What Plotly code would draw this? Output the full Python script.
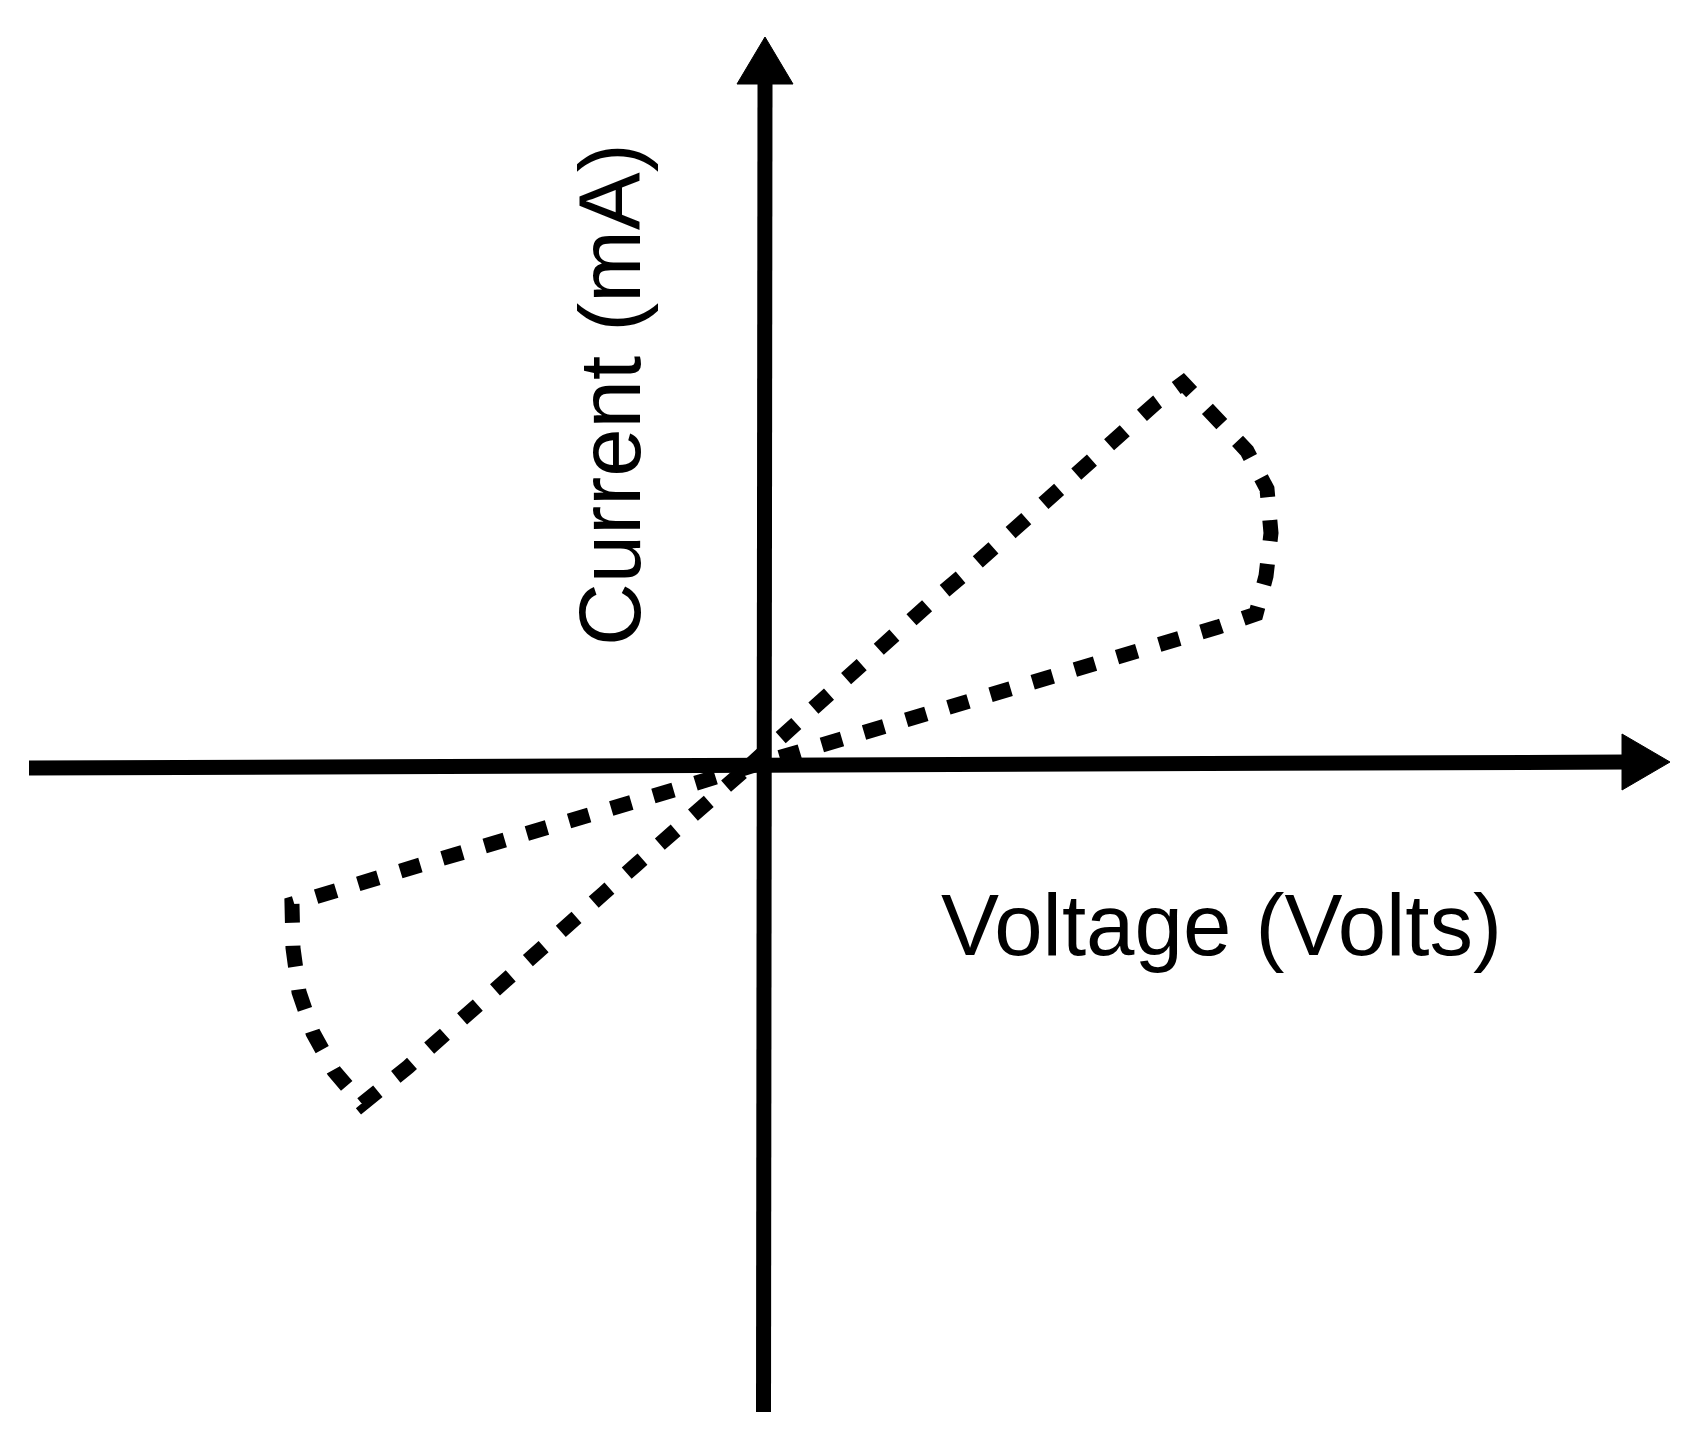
import plotly.graph_objects as go

# Pinched hysteresis loop (figure-8)
voltage = [-0.16, 0.35, 0.68, 1.01, 1.33, 1.65, 1.98, 2.30, 2.63, 2.95, 3.28, 3.60, 3.93,
           4.19, 4.53, 4.83, 5.03, 5.07, 5.02, 4.92,
           4.54, 4.13, 3.71, 3.28, 2.88, 2.46, 2.05, 1.63, 1.21, 0.79, 0.38, -0.16,
           -0.87, -1.29, -1.71, -2.12, -2.54, -2.95, -3.37, -4.72,
           -4.71, -4.65, -4.51, -4.30, -4.02,
           -3.56, -3.23, -2.90, -2.58, -2.25, -1.96, -1.60, -1.27, -0.96, -0.62, -0.16]
current = [-0.02, 0.45, 0.74, 1.03, 1.32, 1.61, 1.89, 2.18, 2.47, 2.76, 3.05, 3.34, 3.63,
           3.82, 3.46, 3.14, 2.76, 2.32, 1.89, 1.51,
           1.38, 1.26, 1.14, 1.01, 0.90, 0.76, 0.63, 0.51, 0.38, 0.27, 0.15, -0.02,
           -0.24, -0.37, -0.49, -0.61, -0.73, -0.86, -0.98, -1.39,
           -1.83, -2.27, -2.68, -3.06, -3.39,
           -3.02, -2.72, -2.43, -2.15, -1.86, -1.58, -1.28, -0.99, -0.71, -0.42, -0.02]

x_label = "Voltage (Volts)"
y_label = "Current (mA)"

# axis extents (data units)
X_MIN, X_MAX = -7.56, 9.27
Y_MIN, Y_MAX = -6.69, 7.57

fig = go.Figure()
fig.add_trace(go.Scatter(
    x=voltage, y=current, mode="lines",
    line=dict(color="black", width=15, dash="21px,23px"),
    hoverinfo="skip", showlegend=False,
))

shapes = [
    # horizontal (voltage) axis
    dict(type="line", xref="x", yref="y", x0=-7.35, y0=-0.03, x1=8.62, y1=0.03,
         line=dict(color="black", width=15)),
    dict(type="path", xref="x", yref="y",
         path="M 8.58 0.31 L 9.06 0.03 L 8.58 -0.25 Z",
         fillcolor="black", line=dict(color="black", width=1)),
    # vertical (current) axis
    dict(type="line", xref="x", yref="y", x0=-0.005, y0=-6.47, x1=0.01, y1=6.85,
         line=dict(color="black", width=15)),
    dict(type="path", xref="x", yref="y",
         path="M -0.27 6.81 L 0.01 7.28 L 0.29 6.81 Z",
         fillcolor="black", line=dict(color="black", width=1)),
]

annotations = [
    dict(x=4.575, y=-1.595, xref="x", yref="y", text=x_label, showarrow=False,
         xanchor="center", yanchor="middle",
         font=dict(family="Liberation Sans, Arial, sans-serif", size=87, color="black")),
    dict(x=-1.55, y=3.70, xref="x", yref="y", text=y_label, showarrow=False,
         textangle=-90, xanchor="center", yanchor="middle",
         font=dict(family="Liberation Sans, Arial, sans-serif", size=87, color="black")),
]

fig.update_layout(
    width=1683, height=1426,
    margin=dict(l=0, r=0, t=0, b=0),
    paper_bgcolor="white", plot_bgcolor="white",
    xaxis=dict(range=[X_MIN, X_MAX], visible=False, fixedrange=True),
    yaxis=dict(range=[Y_MIN, Y_MAX], visible=False, fixedrange=True),
    shapes=shapes, annotations=annotations,
    showlegend=False,
)

fig.write_html("out.html", config={"displayModeBar": False})
